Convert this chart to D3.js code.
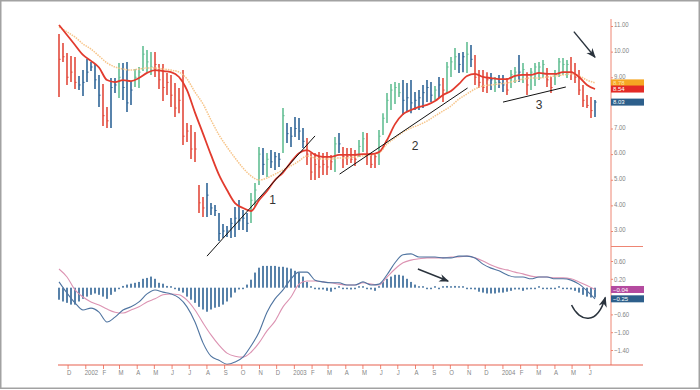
<!DOCTYPE html>
<html>
<head>
  <meta charset="utf-8">
  <title>Weekly bars with moving averages and MACD</title>
  <script src="https://d3js.org/d3.v7.min.js"></script>
  <style>
    body { margin: 0; background: #fff; }
    text { font-family: "Liberation Sans Narrow", "Liberation Sans", Arial, sans-serif; }
  </style>
</head>
<body>
  <div id="chart"></div>

  <script>
    // Weekly bars, the first one is the week of 16 Nov 2001
    const firstWeek = new Date(2001, 10, 16);

    const high = [10.69, 10.34, 9.95, 9.83, 9.79, 9.05, 9.28, 9.71, 9.60, 9.52,
      9.09, 8.74, 7.84, 8.97, 8.97, 9.56, 9.56, 9.60, 8.85, 9.32,
      9.40, 10.22, 10.06, 9.99, 9.99, 9.52, 9.52, 9.17, 9.09, 8.78,
      8.58, 9.28, 7.21, 7.14, 6.86, 4.80, 4.33, 4.87, 4.09, 4.01,
      3.70, 3.27, 3.20, 3.51, 3.94, 4.21, 3.82, 3.70, 4.48, 4.87,
      6.28, 6.24, 6.04, 6.16, 6.08, 6.04, 7.80, 7.21, 7.06, 7.45,
      7.41, 7.02, 6.63, 6.04, 6.04, 6.08, 6.04, 6.08, 5.97, 6.67,
      6.82, 6.28, 6.24, 6.24, 6.16, 6.55, 6.86, 6.82, 6.04, 6.04,
      6.94, 7.60, 8.39, 8.74, 8.81, 8.78, 8.89, 8.78, 8.89, 8.42,
      8.50, 8.70, 8.89, 8.81, 8.66, 9.01, 8.97, 9.60, 9.79, 10.14,
      9.95, 9.99, 10.38, 10.26, 9.87, 9.28, 9.28, 9.20, 9.17, 9.01,
      9.09, 9.09, 8.97, 9.28, 9.40, 9.87, 9.56, 9.20, 9.36, 9.56,
      9.60, 9.67, 9.36, 9.01, 9.28, 9.75, 9.75, 9.67, 9.79, 9.56,
      9.28, 8.70, 8.31, 8.23, 8.11];

    const low = [8.23, 9.60, 8.70, 8.81, 8.54, 8.50, 8.27, 8.81, 9.24, 8.54,
      7.84, 7.10, 7.02, 7.02, 8.39, 8.19, 8.11, 7.64, 7.92, 8.62,
      8.58, 9.24, 9.20, 9.09, 9.01, 8.54, 8.07, 8.31, 7.84, 7.45,
      7.60, 6.36, 6.47, 5.81, 5.69, 3.70, 3.55, 3.55, 3.62, 3.59,
      2.61, 2.73, 2.77, 2.73, 2.77, 3.04, 3.04, 2.96, 3.31, 3.94,
      4.80, 5.19, 5.11, 5.46, 5.38, 5.50, 6.04, 6.43, 6.28, 6.67,
      6.55, 6.24, 5.58, 4.99, 4.99, 5.07, 5.19, 5.19, 5.38, 5.30,
      6.04, 5.46, 5.58, 5.65, 5.54, 5.89, 6.08, 5.58, 5.46, 5.46,
      5.58, 6.75, 7.21, 7.72, 7.96, 8.23, 7.53, 7.64, 7.60, 7.72,
      7.72, 7.80, 8.03, 8.03, 8.11, 8.19, 8.03, 8.39, 9.01, 9.28,
      9.17, 9.20, 9.17, 9.40, 8.70, 8.58, 8.42, 8.39, 8.50, 8.42,
      8.58, 8.42, 8.31, 8.58, 8.78, 8.81, 8.78, 8.31, 8.50, 8.66,
      8.89, 8.97, 8.62, 8.39, 8.70, 9.01, 9.09, 8.97, 8.89, 8.78,
      8.31, 7.84, 7.80, 7.41, 7.45];

    const close = [9.70, 9.80, 9.00, 9.20, 8.80, 8.70, 8.80, 9.20, 9.40, 8.90,
      8.30, 7.50, 7.30, 8.60, 8.70, 9.00, 8.60, 8.00, 8.50, 9.00,
      9.20, 9.90, 9.60, 9.40, 9.50, 8.90, 8.60, 8.80, 8.30, 7.80,
      8.10, 6.70, 6.90, 6.20, 6.20, 4.10, 3.90, 4.40, 3.90, 3.80,
      2.90, 3.00, 3.00, 3.30, 3.50, 3.40, 3.50, 3.30, 4.20, 4.60,
      6.00, 5.60, 5.80, 5.70, 5.90, 5.80, 7.50, 6.80, 6.70, 7.00,
      6.90, 6.50, 6.00, 5.30, 5.60, 5.50, 5.60, 5.50, 5.70, 6.40,
      6.40, 5.90, 5.90, 5.80, 5.80, 6.30, 6.60, 6.00, 5.60, 5.90,
      6.70, 7.40, 8.10, 8.50, 8.60, 8.40, 8.10, 8.20, 8.00, 8.10,
      8.20, 8.40, 8.60, 8.30, 8.50, 8.70, 8.50, 9.40, 9.60, 9.80,
      9.50, 9.80, 9.90, 9.70, 9.00, 8.80, 8.60, 8.90, 8.90, 8.80,
      8.80, 8.70, 8.50, 9.10, 9.20, 9.20, 9.30, 8.70, 9.20, 9.40,
      9.40, 9.50, 8.90, 8.60, 9.10, 9.60, 9.50, 9.50, 9.20, 9.00,
      8.50, 8.10, 7.90, 7.70, 8.03];

    // impulse state of each bar: g = up, r = down, b = neutral
    const impulse = ("rrrrrbbbbbbrrbbgbbbggggg" +
      "rrrrrrrrrrrrrbbbbbbbbbbbgggbgbbbgbbbbb" +
      "rrrrrrrgbrrrrggrrrggggggbbbbbbbbgbrgggbbgb" +
      "rrrrbgbbrggbgrggggrrggggrrrrrrb").split("");

    // moving averages, read every second week
    const emaFast = [11.04, 10.65, 10.26, 9.87, 9.64, 9.38, 8.89, 8.81, 8.89, 8.85,
      8.97, 9.17, 9.28, 9.24, 9.20, 9.01, 8.50, 7.62, 6.80, 5.97,
      5.19, 4.60, 4.09, 3.90, 3.78, 4.20, 4.56, 4.99, 5.28, 5.69,
      6.04, 6.16, 5.97, 5.89, 5.89, 5.97, 5.97, 5.97, 6.00, 6.00,
      6.08, 6.55, 7.17, 7.56, 7.72, 7.84, 7.92, 8.07, 8.31, 8.46,
      8.74, 9.05, 9.13, 9.01, 8.97, 8.93, 8.93, 9.05, 9.09, 9.09,
      9.17, 9.13, 9.13, 9.20, 9.20, 9.01, 8.70, 8.54];

    const emaSlow = [10.96, 10.77, 10.57, 10.30, 10.10, 9.83, 9.56, 9.40, 9.32, 9.28,
      9.32, 9.36, 9.36, 9.32, 9.28, 9.20, 8.93, 8.42, 7.96, 7.33,
      6.75, 6.28, 5.85, 5.46, 5.15, 4.99, 5.07, 5.22, 5.38, 5.54,
      5.73, 5.93, 5.85, 5.81, 5.81, 5.85, 5.85, 5.89, 5.93, 5.97,
      6.04, 6.39, 6.63, 6.86, 7.02, 7.14, 7.29, 7.49, 7.68, 7.88,
      8.15, 8.35, 8.54, 8.66, 8.70, 8.74, 8.78, 8.85, 8.93, 8.97,
      8.97, 9.01, 9.05, 9.09, 9.13, 9.05, 8.89, 8.78];

    // MACD and signal line, read every second week
    const macd = [0.13, -0.12, -0.34, -0.50, -0.46, -0.55, -0.77, -0.66, -0.50, -0.43,
      -0.32, -0.14, -0.05, -0.10, -0.14, -0.23, -0.43, -0.77, -1.24, -1.54,
      -1.63, -1.72, -1.67, -1.56, -1.31, -1.00, -0.55, -0.25, -0.05, 0.20,
      0.35, 0.35, 0.17, 0.13, 0.11, 0.11, 0.06, 0.06, 0.13, 0.06,
      0.08, 0.29, 0.56, 0.74, 0.76, 0.69, 0.69, 0.69, 0.67, 0.67,
      0.71, 0.71, 0.67, 0.53, 0.44, 0.38, 0.29, 0.24, 0.24, 0.20,
      0.24, 0.24, 0.20, 0.20, 0.17, 0.08, -0.07, -0.25];

    const signal = [0.42, 0.24, -0.05, -0.21, -0.32, -0.39, -0.48, -0.55, -0.57, -0.50,
      -0.43, -0.32, -0.25, -0.16, -0.14, -0.16, -0.28, -0.50, -0.79, -1.06,
      -1.29, -1.47, -1.54, -1.56, -1.45, -1.24, -0.97, -0.75, -0.43, -0.21,
      0.08, 0.15, 0.15, 0.13, 0.11, 0.08, 0.06, 0.06, 0.11, 0.08,
      0.06, 0.24, 0.42, 0.56, 0.62, 0.65, 0.67, 0.67, 0.67, 0.69,
      0.69, 0.71, 0.67, 0.60, 0.51, 0.44, 0.40, 0.35, 0.31, 0.26,
      0.24, 0.24, 0.22, 0.22, 0.20, 0.13, 0.05, -0.04];

    // MACD histogram, one value per week
    const histogram = [-0.27, -0.31, -0.34, -0.38, -0.38, -0.31, -0.25, -0.20, -0.16, -0.13,
      -0.16, -0.20, -0.25, -0.16, -0.09, -0.01, 0.04, 0.07, 0.09, 0.11,
      0.13, 0.20, 0.22, 0.25, 0.20, 0.11, 0.09, 0.04, 0.01, -0.02,
      -0.07, -0.11, -0.20, -0.27, -0.34, -0.43, -0.49, -0.54, -0.49, -0.45,
      -0.43, -0.38, -0.31, -0.22, -0.11, -0.04, -0.02, 0.07, 0.18, 0.34,
      0.45, 0.49, 0.49, 0.49, 0.49, 0.47, 0.47, 0.45, 0.43, 0.38,
      0.34, 0.25, 0.13, 0.01, -0.02, -0.04, -0.04, -0.07, -0.09, -0.02,
      0.01, -0.02, -0.02, -0.04, -0.02, 0.01, 0.02, -0.02, -0.04, -0.07,
      0.02, 0.13, 0.20, 0.25, 0.29, 0.29, 0.27, 0.20, 0.13, 0.07,
      0.02, 0.01, -0.01, -0.02, 0.01, -0.02, 0.01, 0.04, 0.02, 0.04,
      0.02, 0.01, -0.01, -0.02, -0.04, -0.09, -0.11, -0.13, -0.13, -0.13,
      -0.11, -0.11, -0.09, -0.07, -0.04, -0.04, -0.07, -0.04, -0.02, -0.01,
      0.02, -0.02, -0.02, -0.02, -0.01, 0.01, -0.02, -0.02, -0.04, -0.07,
      -0.11, -0.16, -0.20, -0.22, -0.22];

    const priceTicks = [3, 4, 5, 6, 7, 8, 9, 10, 11];
    const macdTicks = [0.6, 0.2, -0.2, -0.6, -1.0, -1.4];
    // tick labels that sit under the value tags are not shown
    const hiddenPriceLabels = [8];
    const hiddenMacdLabels = [-0.2];
    const monthLetters = ["J", "F", "M", "A", "M", "J", "J", "A", "S", "O", "N", "D"];

    // trend lines and notes: [week index, value]
    const trendLines = [
      { from: [37, 2.02], to: [64, 6.71], label: "1", at: [53.5, 4.21] },
      { from: [70.2, 5.22], to: [102.2, 8.58], label: "2", at: [89, 6.32] },
      { from: [111, 8.03], to: [126.8, 8.62], label: "3", at: [120, 7.92] }
    ];
    const priceArrow = { from: [128.8, 10.78], to: [134, 9.78] };
    const macdArrow = { from: [89.8, 0.42], to: [97.3, 0.15] };
    const hookArrow = [[128.2, -0.39], [130.2, -0.78], [134.7, -0.85], [136.7, -0.22]];

    const colors = { g: "#62be93", r: "#e2493b", b: "#2f6597" };
    const axisColor = "#ee8573";
    const labelColor = "#858585";
    const noteColor = "#2a333d";

    const width = 700, height = 390;
    const svg = d3.select("#chart").append("svg")
      .attr("width", width)
      .attr("height", height);

    svg.append("defs").append("marker")
      .attr("id", "head")
      .attr("viewBox", "0 0 10 10")
      .attr("refX", 9).attr("refY", 5)
      .attr("markerWidth", 7).attr("markerHeight", 7)
      .attr("orient", "auto")
      .append("path")
      .attr("d", "M0,1 L10,5 L0,9 L3,5 Z")
      .attr("fill", noteColor);

    const weeks = high.map((_, i) => d3.timeWeek.offset(firstWeek, i));
    const sampled = weeks.filter((_, i) => i % 2 === 0);

    const x = d3.scaleTime()
      .domain(d3.extent(weeks))
      .range([59, 595]);
    const xi = i => x(d3.timeDay.offset(firstWeek, i * 7));

    const yPrice = d3.scaleLinear().domain([3, 11]).range([231, 26]);
    const yMacd = d3.scaleLinear().domain([-1.4, 0.6]).range([350, 261]);

    const axisX = 611;

    // outer frame
    svg.append("rect")
      .attr("x", 0.75).attr("y", 0.75)
      .attr("width", width - 1.5).attr("height", 387.5)
      .attr("fill", "none")
      .attr("stroke", "#a2a2a2")
      .attr("stroke-width", 1.5);

    // ---- price panel ----
    const bars = svg.append("g");
    weeks.forEach((d, i) => {
      const c = colors[impulse[i]];
      bars.append("line")
        .attr("x1", x(d)).attr("x2", x(d))
        .attr("y1", yPrice(high[i])).attr("y2", yPrice(low[i]))
        .attr("stroke", c)
        .attr("stroke-width", 1.6);
      bars.append("line")
        .attr("x1", x(d)).attr("x2", x(d) + 1.6)
        .attr("y1", yPrice(close[i])).attr("y2", yPrice(close[i]))
        .attr("stroke", c)
        .attr("stroke-width", 1);
    });

    const priceLine = d3.line()
      .x((d, i) => x(sampled[i]))
      .y(d => yPrice(d))
      .curve(d3.curveMonotoneX);

    svg.append("path")
      .attr("d", priceLine(emaSlow))
      .attr("fill", "none")
      .attr("stroke", "#f7c58a")
      .attr("stroke-width", 1.5)
      .attr("stroke-dasharray", "1.5,1");

    svg.append("path")
      .attr("d", priceLine(emaFast))
      .attr("fill", "none")
      .attr("stroke", "#e23b2e")
      .attr("stroke-width", 1.8);

    trendLines.forEach(t => {
      svg.append("line")
        .attr("x1", xi(t.from[0])).attr("y1", yPrice(t.from[1]))
        .attr("x2", xi(t.to[0])).attr("y2", yPrice(t.to[1]))
        .attr("stroke", "#111")
        .attr("stroke-width", 1);
      svg.append("text")
        .attr("x", xi(t.at[0])).attr("y", yPrice(t.at[1]))
        .attr("dy", "0.35em")
        .attr("text-anchor", "middle")
        .attr("font-family", "DejaVu Sans, sans-serif")
        .attr("font-size", 12)
        .attr("fill", "#333")
        .text(t.label);
    });

    svg.append("line")
      .attr("x1", xi(priceArrow.from[0])).attr("y1", yPrice(priceArrow.from[1]))
      .attr("x2", xi(priceArrow.to[0])).attr("y2", yPrice(priceArrow.to[1]))
      .attr("stroke", noteColor)
      .attr("stroke-width", 1.4)
      .attr("marker-end", "url(#head)");

    // ---- MACD panel ----
    const hist = svg.append("g");
    weeks.forEach((d, i) => {
      const y0 = yMacd(0), y1 = yMacd(histogram[i]);
      const h = Math.max(1.5, Math.abs(y1 - y0));
      hist.append("rect")
        .attr("x", x(d) - 0.8)
        .attr("y", histogram[i] >= 0 ? y0 - h : y0)
        .attr("width", 1.6)
        .attr("height", h)
        .attr("fill", "#2f6394");
    });

    const macdLine = d3.line()
      .x((d, i) => x(sampled[i]))
      .y(d => yMacd(d))
      .curve(d3.curveMonotoneX);

    svg.append("path")
      .attr("d", macdLine(signal))
      .attr("fill", "none")
      .attr("stroke", "#dc93b2")
      .attr("stroke-width", 1.1);

    svg.append("path")
      .attr("d", macdLine(macd))
      .attr("fill", "none")
      .attr("stroke", "#4f74a0")
      .attr("stroke-width", 1.1);

    svg.append("line")
      .attr("x1", xi(macdArrow.from[0])).attr("y1", yMacd(macdArrow.from[1]))
      .attr("x2", xi(macdArrow.to[0])).attr("y2", yMacd(macdArrow.to[1]))
      .attr("stroke", noteColor)
      .attr("stroke-width", 1.4)
      .attr("marker-end", "url(#head)");

    const hook = d3.path();
    const hp = hookArrow.map(p => [xi(p[0]), yMacd(p[1])]);
    hook.moveTo(hp[0][0], hp[0][1]);
    hook.bezierCurveTo(hp[1][0], hp[1][1], hp[2][0], hp[2][1], hp[3][0], hp[3][1]);
    svg.append("path")
      .attr("d", hook.toString())
      .attr("fill", "none")
      .attr("stroke", noteColor)
      .attr("stroke-width", 1.5)
      .attr("marker-end", "url(#head)");

    // ---- axes ----
    const fmt = d3.format(".2f");
    const priceAxis = svg.append("g")
      .attr("transform", `translate(${axisX},0)`)
      .call(d3.axisRight(yPrice).tickValues(priceTicks).tickSize(2).tickPadding(1)
        .tickFormat(d => hiddenPriceLabels.includes(d) ? "" : fmt(d)));
    const macdAxis = svg.append("g")
      .attr("transform", `translate(${axisX},0)`)
      .call(d3.axisRight(yMacd).tickValues(macdTicks).tickSize(2).tickPadding(1)
        .tickFormat(d => hiddenMacdLabels.includes(d) ? "" : fmt(d)));
    priceAxis.selectAll("text").attr("dy", "0.1em");

    const months = d3.timeMonth.range(new Date(2001, 11, 1), new Date(2004, 6, 1));
    const timeAxis = svg.append("g")
      .attr("transform", "translate(0,365)")
      .call(d3.axisBottom(x).tickValues(months).tickSize(4).tickPadding(1)
        .tickFormat(d => d.getMonth() === 0 ? d.getFullYear() : monthLetters[d.getMonth()]));
    timeAxis.selectAll("text").attr("text-anchor", "start").attr("x", -1);

    [priceAxis, macdAxis, timeAxis].forEach(g => {
      g.select(".domain").remove();
      g.selectAll("line").attr("stroke", axisColor);
      g.selectAll("text").attr("fill", labelColor).attr("font-size", 7.5)
        .attr("font-family", "Liberation Sans Narrow, Liberation Sans, Arial, sans-serif")
        .each(function () {
          // squeeze labels to the narrow look of the original
          const len = this.getComputedTextLength();
          if (len > 0) {
            d3.select(this).attr("textLength", len * 0.8)
              .attr("lengthAdjust", "spacingAndGlyphs");
          }
        });
    });

    svg.append("line")
      .attr("x1", axisX).attr("x2", axisX)
      .attr("y1", 19).attr("y2", 365)
      .attr("stroke", axisColor);
    svg.append("line")
      .attr("x1", 58).attr("x2", 643)
      .attr("y1", 365).attr("y2", 365)
      .attr("stroke", "#e8604e")
      .attr("stroke-width", 1.2);
    svg.append("line")
      .attr("x1", axisX).attr("x2", 643)
      .attr("y1", 246.5).attr("y2", 246.5)
      .attr("stroke", axisColor);

    // last value tags on the axis
    const last = arr => arr[arr.length - 1];
    const tags = [
      { y: yPrice(last(emaSlow)), v: last(emaSlow), fill: "#f6a623", text: "#fde3a8" },
      { y: yPrice(last(emaFast)), v: last(emaFast), fill: "#e42b26", text: "#fff" },
      { y: yPrice(last(close)), v: last(close), fill: "#2d5f8b", text: "#fff" },
      { y: yMacd(last(signal)), v: last(signal), fill: "#b44a9f", text: "#fff" },
      { y: yMacd(last(macd)), v: last(macd), fill: "#2d5f8b", text: "#fff" }
    ];
    tags.forEach(t => {
      svg.append("rect")
        .attr("x", axisX).attr("y", t.y - 3.5)
        .attr("width", 33).attr("height", 7)
        .attr("fill", t.fill);
      svg.append("text")
        .attr("x", axisX + 2).attr("y", t.y)
        .attr("dy", "0.37em")
        .attr("font-size", 6)
        .attr("fill", t.text)
        .text(fmt(t.v));
    });
  </script>
</body>
</html>
